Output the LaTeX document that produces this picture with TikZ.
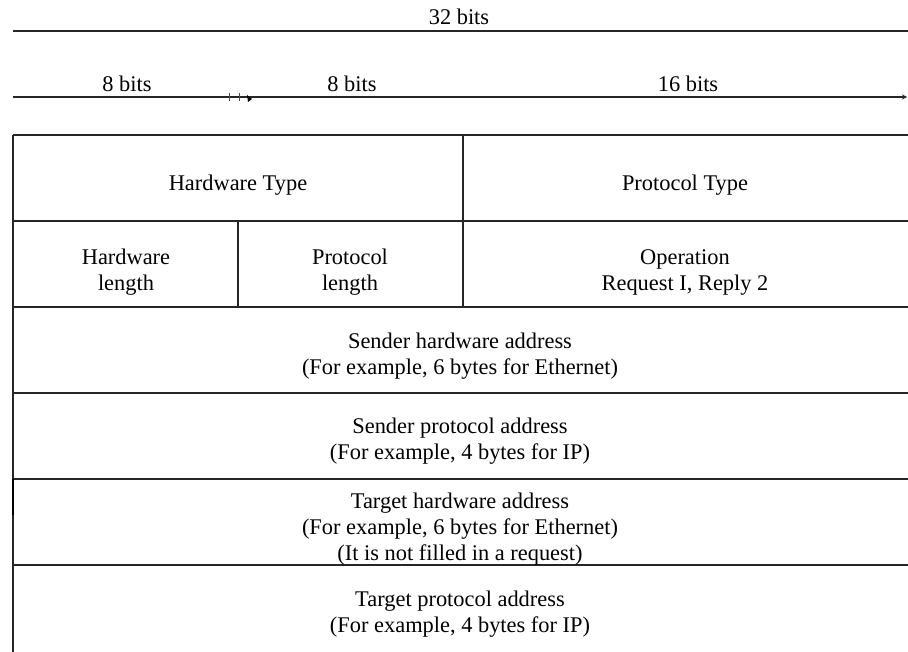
\documentclass[tikz,border=0pt]{standalone}
\usepackage{fontspec}
\setmainfont{Liberation Serif}
\usetikzlibrary{positioning}
\usetikzlibrary{arrows.meta}
\tikzset {
  % lines of the table and the rulers
  rule/.style = {line width=1.2pt, black!85},
  % text inside a field
  field/.style = {align=center, inner sep=0pt, font=\fontsize{22.4}{26}\selectfont},
  % width labels sitting on the rulers
  bits/.style = {field, anchor=base},
  % small marks on the second ruler
  tick/.style = {line width=0.6pt, black!70},
}

\begin{document}
\begin{tikzpicture}[x=1pt, y=-1pt]
        \useasboundingbox (0,0) rectangle (908,652);

        % rulers
        \coordinate (r1a) at (13,31);
        \coordinate (r1b) at (908,31);
        \coordinate (r2a) at (13,97);
        \coordinate (r2b) at (907,97);
        \draw[rule] (r1a) -- (r1b);
        \draw[rule, -{Stealth[length=5pt, width=5pt]}] (r2a) -- (r2b);
        \draw[tick] (229,93) -- (229,101);
        \draw[tick] (239,93) -- (239,101);
        \fill[black] (247,95) -- (252,99) -- (248,102) -- cycle;

        \node[bits] (w32) at (459,25) {32 bits};
        \node[bits] (w8a) at (127,92) {8 bits};
        \node[bits] (w8b) at (352,92) {8 bits};
        \node[bits] (w16) at (688,92) {16 bits};

        % table
        \draw[rule] (13,135) -- (908,135);
        \draw[rule] (13,221) -- (908,221);
        \draw[rule] (13,307) -- (908,307);
        \draw[rule] (13,393) -- (908,393);
        \draw[rule] (13,479) -- (908,479);
        \draw[rule] (13,565) -- (908,565);
        \draw[rule] (13,135) -- (13,652);
        \draw[rule] (463,135) -- (463,307);
        \draw[rule] (238,221) -- (238,307);
        \draw[line width=2.8pt] (13,479) -- (13,515);

        \node[field] (ht) at (238,185) {Hardware Type};
        \node[field] (pt) at (685,185) {Protocol Type};
        \node[field] (hl) at (126,272.5) {Hardware\\length};
        \node[field] (pl) at (350,272.5) {Protocol\\length};
        \node[field] (op) at (685,272.5) {Operation\\Request I, Reply 2};
        \node[field] (sha) at (460,356) {Sender hardware address\\(For example, 6 bytes for Ethernet)};
        \node[field] (spa) at (460,441) {Sender protocol address\\(For example, 4 bytes for IP)};
        \node[field] (tha) at (460,529) {Target hardware address\\(For example, 6 bytes for Ethernet)\\(It is not filled in a request)};
        \node[field] (tpa) at (460,614) {Target protocol address\\(For example, 4 bytes for IP)};
      \end{tikzpicture}
\end{document}
